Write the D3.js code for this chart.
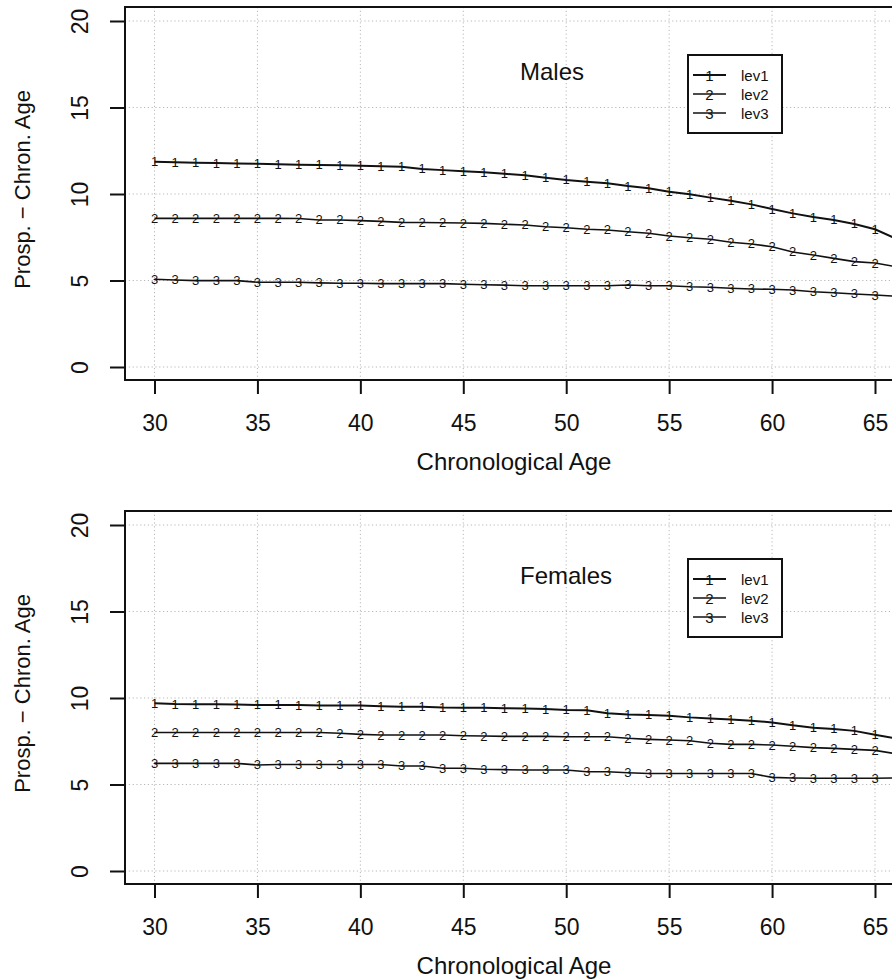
<!DOCTYPE html>
<html>
<head>
<meta charset="utf-8">
<script src="https://cdn.jsdelivr.net/npm/d3@7"></script>
<style>
  body { margin: 0; background: #fff; overflow: hidden; }
  text { font-family: "Liberation Sans", Arial, Helvetica, sans-serif; fill: #111; }
</style>
</head>
<body>
<div id="chart"></div>
<script>
// ages 30..66 (66 is only partly in view, at the right edge)
var ages = [30,31,32,33,34,35,36,37,38,39,40,41,42,43,44,45,46,47,48,49,50,
            51,52,53,54,55,56,57,58,59,60,61,62,63,64,65,66];

var malesLev1 = [11.87,11.83,11.81,11.79,11.77,11.75,11.72,11.69,11.68,11.66,11.64,11.61,11.58,11.45,11.38,11.32,11.26,11.17,11.09,10.94,10.81,
                 10.71,10.62,10.46,10.33,10.13,9.98,9.79,9.61,9.40,9.13,8.88,8.67,8.50,8.27,7.96,7.43];
var malesLev2 = [8.59,8.59,8.59,8.59,8.59,8.59,8.59,8.58,8.50,8.50,8.46,8.42,8.36,8.35,8.34,8.32,8.30,8.25,8.21,8.11,8.05,
                 7.96,7.92,7.82,7.73,7.57,7.47,7.38,7.21,7.11,6.95,6.65,6.47,6.28,6.09,6.01,5.80];
var malesLev3 = [5.07,5.03,4.99,4.99,4.99,4.90,4.90,4.90,4.86,4.84,4.84,4.82,4.82,4.82,4.82,4.78,4.75,4.73,4.70,4.70,4.70,
                 4.70,4.70,4.74,4.70,4.70,4.64,4.61,4.55,4.51,4.49,4.45,4.35,4.29,4.22,4.16,4.09];

var femalesLev1 = [9.69,9.65,9.64,9.64,9.63,9.60,9.60,9.59,9.57,9.56,9.56,9.53,9.50,9.49,9.45,9.44,9.43,9.41,9.40,9.36,9.31,
                   9.29,9.12,9.05,9.02,8.98,8.88,8.82,8.76,8.69,8.59,8.42,8.28,8.21,8.10,7.88,7.66];
var femalesLev2 = [8.01,8.01,8.01,8.01,8.01,8.01,8.01,8.01,8.01,7.96,7.90,7.86,7.86,7.86,7.86,7.82,7.80,7.78,7.78,7.78,7.76,
                   7.76,7.76,7.67,7.61,7.57,7.53,7.38,7.32,7.32,7.28,7.21,7.13,7.09,7.03,6.97,6.78];
var femalesLev3 = [6.22,6.22,6.22,6.22,6.22,6.13,6.16,6.16,6.16,6.16,6.16,6.16,6.07,6.07,5.94,5.94,5.88,5.86,5.84,5.84,5.84,
                   5.74,5.74,5.68,5.64,5.64,5.64,5.64,5.64,5.64,5.41,5.38,5.36,5.36,5.36,5.36,5.38];

var xTicks = [30,35,40,45,50,55,60,65];
var yTicks = [0,5,10,15,20];
var legendLabels = ["lev1","lev2","lev3"];
var pchLabels = ["1","2","3"];

var WIDTH = 892;
var HEIGHT = 980;
var BOX = {left: 125, top: 7, bottom: 380};

var svg = d3.select("#chart").append("svg")
    .attr("width", WIDTH)
    .attr("height", HEIGHT);

var xScale = d3.scaleLinear().domain([30, 65]).range([154.5, 875]);
var yScale = d3.scaleLinear().domain([0, 20]).range([367, 21]);

function plotPanel(g, title, series) {
    // dotted grid
    g.append("g").selectAll("line")
        .data(xTicks)
        .enter().append("line")
        .attr("x1", function(d) { return xScale(d); })
        .attr("x2", function(d) { return xScale(d); })
        .attr("y1", BOX.top)
        .attr("y2", BOX.bottom)
        .style("stroke", "#b8b8b8")
        .style("stroke-width", 1)
        .style("stroke-dasharray", "1.2 2.6");

    g.append("g").selectAll("line")
        .data(yTicks)
        .enter().append("line")
        .attr("x1", BOX.left)
        .attr("x2", 1100)
        .attr("y1", function(d) { return yScale(d); })
        .attr("y2", function(d) { return yScale(d); })
        .style("stroke", "#b8b8b8")
        .style("stroke-width", 1)
        .style("stroke-dasharray", "1.2 2.6");

    var line = d3.line()
        .x(function(d, i) { return xScale(ages[i]); })
        .y(function(d) { return yScale(d); });

    series.forEach(function(vals, k) {
        g.append("path")
            .datum(vals)
            .attr("d", line)
            .style("fill", "none")
            .style("stroke", "#111")
            .style("stroke-width", k === 0 ? 2 : 1.6);

        // point symbols only where they fall inside the window
        var pts = vals.map(function(v, i) { return {age: ages[i], v: v}; })
                      .filter(function(d) { return xScale(d.age) < WIDTH - 8; });

        g.append("g").selectAll("text")
            .data(pts)
            .enter().append("text")
            .attr("x", function(d) { return xScale(d.age); })
            .attr("y", function(d) { return yScale(d.v); })
            .attr("text-anchor", "middle")
            .attr("dominant-baseline", "central")
            .style("font-size", "13px")
            .text(pchLabels[k]);
    });

    // box
    g.append("rect")
        .attr("x", BOX.left)
        .attr("y", BOX.top)
        .attr("width", 1100 - BOX.left)
        .attr("height", BOX.bottom - BOX.top)
        .style("fill", "none")
        .style("stroke", "#111")
        .style("stroke-width", 2);

    // axes
    var xAxis = d3.axisBottom(xScale).tickValues(xTicks).tickSize(14);
    var xg = g.append("g")
        .attr("transform", "translate(0," + BOX.bottom + ")")
        .call(xAxis);
    xg.select(".domain").remove();
    xg.selectAll("line").style("stroke", "#111").style("stroke-width", 2);
    xg.selectAll("text")
        .attr("y", 43)
        .attr("dy", "0.35em")
        .style("font-size", "23px")
        .style("font-family", "Liberation Sans, Arial, sans-serif");

    var yAxis = d3.axisLeft(yScale).tickValues(yTicks).tickSize(15);
    var yg = g.append("g")
        .attr("transform", "translate(" + BOX.left + ",0)")
        .call(yAxis);
    yg.select(".domain").remove();
    yg.selectAll("line").style("stroke", "#111").style("stroke-width", 2);
    yg.selectAll("text")
        .attr("x", 0)
        .attr("dy", null)
        .attr("transform", "translate(-45,0) rotate(-90)")
        .attr("text-anchor", "middle")
        .attr("dominant-baseline", "central")
        .style("font-size", "23px")
        .style("font-family", "Liberation Sans, Arial, sans-serif");

    g.append("text")
        .attr("x", 514)
        .attr("y", 461)
        .attr("text-anchor", "middle")
        .attr("dominant-baseline", "central")
        .style("font-size", "24px")
        .text("Chronological Age");

    g.append("text")
        .attr("transform", "translate(22," + ((BOX.top + BOX.bottom) / 2 - 4) + ") rotate(-90)")
        .attr("text-anchor", "middle")
        .attr("dominant-baseline", "central")
        .style("font-size", "22px")
        .text("Prosp. \u2212 Chron. Age");

    g.append("text")
        .attr("x", 520)
        .attr("y", 71)
        .attr("dominant-baseline", "central")
        .style("font-size", "24px")
        .text(title);

    // legend
    var lg = g.append("g");
    lg.append("rect")
        .attr("x", 688).attr("y", 55)
        .attr("width", 94).attr("height", 78)
        .style("fill", "#fff")
        .style("stroke", "#111")
        .style("stroke-width", 2);

    legendLabels.forEach(function(lab, k) {
        var yy = 75 + k * 19;
        lg.append("line")
            .attr("x1", 693).attr("x2", 726)
            .attr("y1", yy).attr("y2", yy)
            .style("stroke", "#111")
            .style("stroke-width", k === 0 ? 2.2 : 1.6);
        lg.append("text")
            .attr("x", 709.5).attr("y", yy)
            .attr("text-anchor", "middle")
            .attr("dominant-baseline", "central")
            .style("font-size", "15px")
            .text(pchLabels[k]);
        lg.append("text")
            .attr("x", 741).attr("y", yy)
            .attr("dominant-baseline", "central")
            .style("font-size", "15px")
            .text(lab);
    });
}

plotPanel(svg.append("g"), "Males", [malesLev1, malesLev2, malesLev3]);
plotPanel(svg.append("g").attr("transform", "translate(0,504)"), "Females", [femalesLev1, femalesLev2, femalesLev3]);
</script>
</body>
</html>
